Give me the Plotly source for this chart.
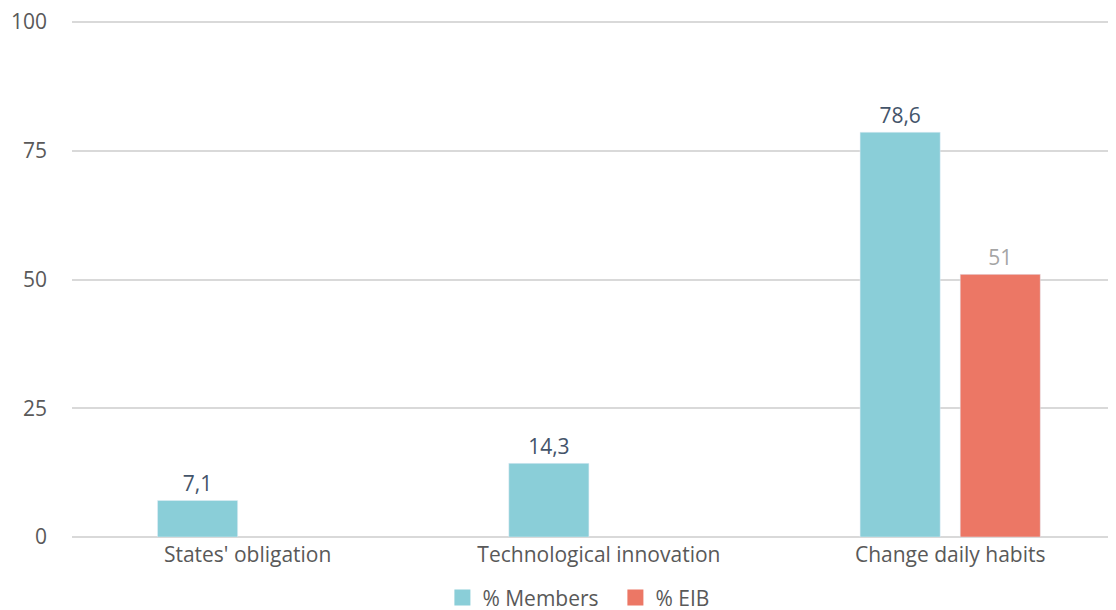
import plotly.graph_objects as go

categories = ["States' obligation", "Technological innovation", "Change daily habits"]
members = [7.1, 14.3, 78.6]
eib = [None, None, 51]
y_ticks = [0, 25, 50, 75, 100]
series_names = ["% Members", "% EIB"]
series_colors = ["#8ACED8", "#EC7765"]

def fmt(v):
    if v is None:
        return ""
    return ("%g" % v).replace(".", ",")

FONT = "Open Sans"
FS = 21

fig = go.Figure()
fig.add_trace(go.Bar(
    x=categories, y=members, name=series_names[0],
    marker=dict(color=series_colors[0]), showlegend=False,
    text=[fmt(v) for v in members], textposition="outside",
    textfont=dict(color="#44546A", size=FS, family=FONT),
    cliponaxis=False,
))
fig.add_trace(go.Bar(
    x=categories, y=eib, name=series_names[1],
    marker=dict(color=series_colors[1]), showlegend=False,
    text=[fmt(v) for v in eib], textposition="outside",
    textfont=dict(color="#A5A5A5", size=FS, family=FONT),
    cliponaxis=False,
))
# legend entries with larger square swatches
for name, col in zip(series_names, series_colors):
    fig.add_trace(go.Scatter(
        x=[None], y=[None], mode="markers", name=name,
        marker=dict(symbol="square", size=18, color=col),
        showlegend=True, hoverinfo="skip",
    ))

fig.update_layout(
    width=1108, height=610,
    margin=dict(l=64, r=0, t=13, b=81, autoexpand=False),
    paper_bgcolor="white", plot_bgcolor="white",
    font=dict(family=FONT, size=FS, color="#595959"),
    barmode="group", bargap=0.43, bargroupgap=0.2,
    showlegend=True,
    legend=dict(orientation="h", x=0.5205, xanchor="center", xref="paper",
                y=-0.118, yanchor="middle", yref="paper",
                entrywidth=128, entrywidthmode="pixels",
                font=dict(size=FS, color="#595959")),
    xaxis=dict(range=[-0.5, 2.472], showgrid=False, showline=False, ticks="",
               automargin=False, ticklabelstandoff=3,
               tickfont=dict(size=FS, color="#595959")),
    yaxis=dict(range=[0, 100.2], tickvals=y_ticks, showgrid=True, gridcolor="#D9D9D9",
               gridwidth=2, zeroline=True, zerolinecolor="#D9D9D9", zerolinewidth=2,
               showline=False, ticks="", ticklabelstandoff=24, automargin=False,
               ticklabeloverflow="allow",
               tickfont=dict(size=FS, color="#595959")),
)

fig.write_html("out.html")
